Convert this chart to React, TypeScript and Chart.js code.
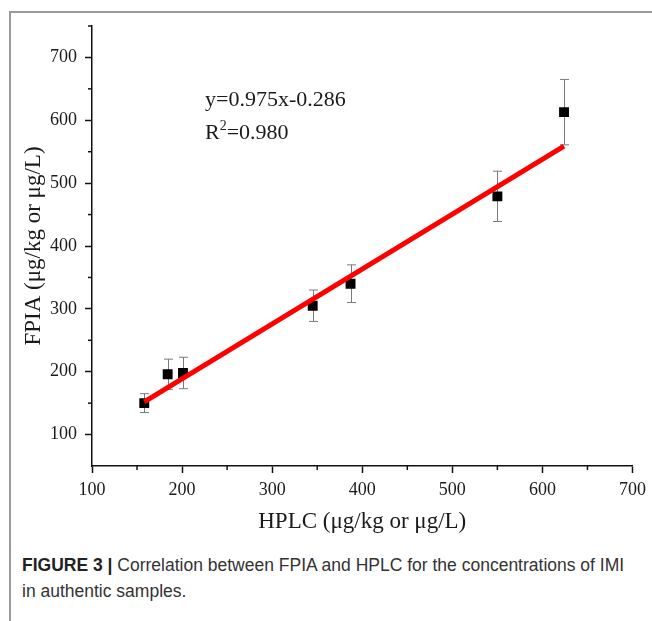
import React, { useEffect, useRef } from "react";
import { Chart, registerables } from "chart.js";

Chart.register(...registerables);

const hplc = [158, 184, 201, 345, 387, 550, 624];
const fpia = [150, 196, 198, 305, 340, 479, 613];
const errPlus = [15, 24, 25, 25, 30, 40, 52];
const errMinus = [15, 24, 25, 25, 30, 40, 52];
const fitX = [158, 624];
const fitY = [152, 559];
const xMajor = [100, 200, 300, 400, 500, 600, 700];
const yMajor = [100, 200, 300, 400, 500, 600, 700];
const xMinor = [150, 250, 350, 450, 550, 650];
const yMinor = [150, 250, 350, 450, 550, 650, 750];

const SERIF = "'Liberation Serif', 'Times New Roman', serif";

const extras = {
  id: "extras",
  beforeDatasetsDraw(chart: any) {
    const { ctx, scales } = chart;
    const xs = scales.x, ys = scales.y;
    ctx.save();
    ctx.strokeStyle = "#7a7a7a";
    ctx.lineWidth = 1;
    hplc.forEach((xv, i) => {
      const px = Math.round(xs.getPixelForValue(xv)) + 0.5;
      const top = ys.getPixelForValue(fpia[i] + errPlus[i]);
      const bot = ys.getPixelForValue(fpia[i] - errMinus[i]);
      ctx.beginPath();
      ctx.moveTo(px, top);
      ctx.lineTo(px, bot);
      ctx.moveTo(px - 4.5, top);
      ctx.lineTo(px + 4.5, top);
      ctx.moveTo(px - 4.5, bot);
      ctx.lineTo(px + 4.5, bot);
      ctx.stroke();
    });
    ctx.restore();
  },
  afterDraw(chart: any) {
    const { ctx, scales, chartArea } = chart;
    ctx.save();
    ctx.strokeStyle = "#111";
    ctx.lineWidth = 1.5;
    xMinor.forEach((v) => {
      const px = scales.x.getPixelForValue(v);
      ctx.beginPath();
      ctx.moveTo(px, chartArea.bottom);
      ctx.lineTo(px, chartArea.bottom + 4);
      ctx.stroke();
    });
    yMinor.forEach((v) => {
      const py = scales.y.getPixelForValue(v);
      ctx.beginPath();
      ctx.moveTo(chartArea.left, py);
      ctx.lineTo(chartArea.left - 4, py);
      ctx.stroke();
    });
    ctx.restore();
  },
};

export default function App() {
  const ref = useRef<HTMLCanvasElement | null>(null);
  useEffect(() => {
    if (!ref.current) return;
    const chart = new Chart(ref.current, {
      type: "scatter",
      data: {
        datasets: [
          {
            label: "fit",
            data: fitX.map((x, i) => ({ x, y: fitY[i] })),
            showLine: true,
            borderColor: "#ff0000",
            borderWidth: 5,
            pointRadius: 0,
            order: 0,
          },
          {
            label: "samples",
            data: hplc.map((x, i) => ({ x, y: fpia[i] })),
            pointStyle: "rect",
            pointRadius: 7,
            pointHoverRadius: 7,
            backgroundColor: "#000",
            borderColor: "#000",
            borderWidth: 0,
            order: 1,
          },
        ],
      },
      options: {
        animation: false,
        responsive: false,
        events: [],
        layout: { padding: { left: 0, right: 14, top: 26, bottom: 0 } },
        plugins: { legend: { display: false }, tooltip: { enabled: false } },
        scales: {
          x: {
            type: "linear",
            min: 100,
            max: 700,
            afterBuildTicks: (s: any) => {
              s.ticks = xMajor.map((v) => ({ value: v }));
            },
            afterFit: (s: any) => {
              s.height = 79;
            },
            ticks: { autoSkip: false, color: "#1a1a1a", padding: 6, font: { family: SERIF, size: 18 } },
            grid: { drawOnChartArea: false, drawTicks: true, tickLength: 7, tickColor: "#111", tickWidth: 1.5 },
            border: { color: "#111", width: 1.5 },
            title: {
              display: true,
              text: "HPLC (μg/kg or μg/L)",
              color: "#1a1a1a",
              font: { family: SERIF, size: 23 },
              padding: { top: 0, bottom: 9 },
            },
          },
          y: {
            type: "linear",
            min: 50,
            max: 750,
            afterBuildTicks: (s: any) => {
              s.ticks = yMajor.map((v) => ({ value: v }));
            },
            afterFit: (s: any) => {
              s.width = 92;
            },
            ticks: { autoSkip: false, color: "#1a1a1a", padding: 8, font: { family: SERIF, size: 18 } },
            grid: { drawOnChartArea: false, drawTicks: true, tickLength: 7, tickColor: "#111", tickWidth: 1.5 },
            border: { color: "#111", width: 1.5 },
            title: {
              display: true,
              text: "FPIA (μg/kg or μg/L)",
              color: "#1a1a1a",
              font: { family: SERIF, size: 23 },
              padding: { top: 20, bottom: 0 },
            },
          },
        },
      },
      plugins: [extras],
    } as any);
    return () => chart.destroy();
  }, []);

  return (
    <div style={{ position: "fixed", left: 0, top: 0, width: 652, height: 621, background: "#fff", overflow: "hidden" }}>
      <div
        style={{
          position: "absolute",
          left: 9,
          top: 11,
          width: 660,
          height: 640,
          borderTop: "2px solid #9a9a9a",
          borderLeft: "2px solid #9a9a9a",
          boxSizing: "border-box",
        }}
      />
      <canvas ref={ref} width={652} height={545} style={{ position: "absolute", left: 0, top: 0, width: 652, height: 545 }} />
      <div style={{ position: "absolute", left: 205, top: 88, fontFamily: SERIF, fontSize: 22, lineHeight: "22px", color: "#1a1a1a", whiteSpace: "nowrap" }}>
        y=0.975x-0.286
      </div>
      <div style={{ position: "absolute", left: 205, top: 121, fontFamily: SERIF, fontSize: 22, lineHeight: "22px", color: "#1a1a1a", whiteSpace: "nowrap" }}>
        R<span style={{ fontSize: 14, position: "relative", top: -9 }}>2</span>=0.980
      </div>
      <div
        style={{
          position: "absolute",
          left: 22,
          top: 552,
          width: 630,
          fontFamily: "'Liberation Sans', Arial, sans-serif",
          fontSize: 17.5,
          lineHeight: "26px",
          color: "#333",
          whiteSpace: "nowrap",
        }}
      >
        <b style={{ color: "#222" }}>FIGURE 3 |</b> Correlation between FPIA and HPLC for the concentrations of IMI
        <br />
        in authentic samples.
      </div>
    </div>
  );
}
